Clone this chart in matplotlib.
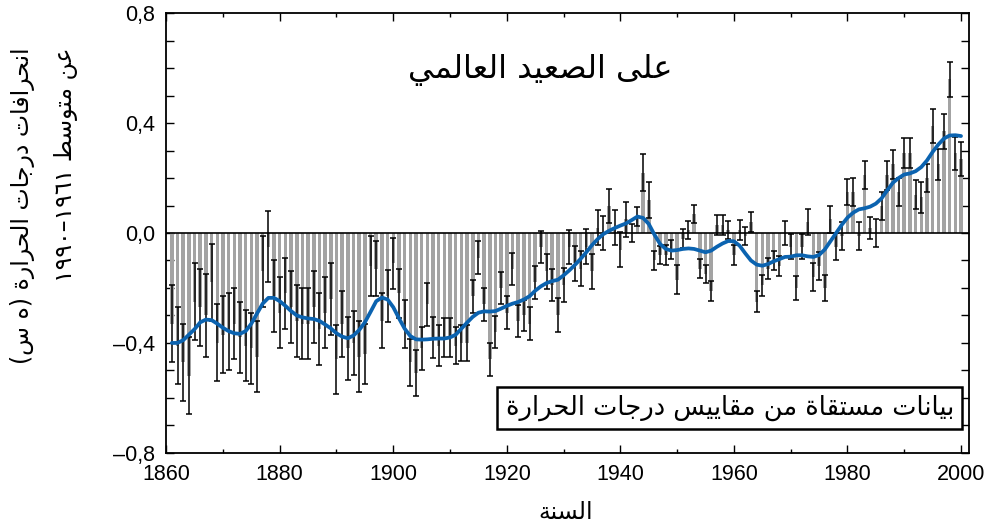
import matplotlib
matplotlib.use("Agg")
import matplotlib.pyplot as plt
from matplotlib.ticker import MultipleLocator, FixedLocator, FuncFormatter

BAR_COLOUR = "#a3a3a3"
LINE_COLOUR = "#0b63b0"
ARABIC_FONT = ["DejaVu Sans"]
NUMBER_FONT = ["Liberation Sans", "DejaVu Sans"]

TITLE = "على الصعيد العالمي"
SOURCE_NOTE = "بيانات مستقاة من مقاييس درجات الحرارة"
Y_LABEL_1 = "انحرافات درجات الحرارة (ه س)"
Y_LABEL_2 = "عن متوسط ١٩٦١–١٩٩٠"
X_LABEL = "السنة"

years = list(range(1861, 2001))

# annual anomaly (bar ends)
anomaly = [
    -0.33, -0.41, -0.47, -0.52, -0.25, -0.27, -0.30, -0.18, -0.40, -0.37,
    -0.36, -0.33, -0.38, -0.41, -0.42, -0.45, -0.14, -0.05, -0.23, -0.29,
    -0.22, -0.27, -0.32, -0.33, -0.33, -0.27, -0.35, -0.29, -0.24, -0.46,
    -0.33, -0.42, -0.40, -0.45, -0.44, -0.12, -0.13, -0.32, -0.23, -0.11,
    -0.22, -0.33, -0.47, -0.51, -0.42, -0.26, -0.38, -0.41, -0.38, -0.38,
    -0.41, -0.40, -0.40, -0.23, -0.09, -0.26, -0.46, -0.36, -0.20, -0.29,
    -0.13, -0.32, -0.30, -0.33, -0.18, -0.05, -0.14, -0.19, -0.30, -0.19,
    -0.05, -0.11, -0.13, -0.05, -0.14, 0.02, 0.00, 0.10, 0.02, -0.06,
    0.05, 0.00, 0.06, 0.22, 0.12, -0.10, -0.08, -0.08, -0.06, -0.17,
    -0.02, 0.01, 0.07, -0.13, -0.15, -0.21, 0.03, 0.03, 0.01, -0.08,
    0.01, -0.01, 0.04, -0.25, -0.19, -0.13, -0.10, -0.12, 0.00, -0.05,
    -0.20, -0.05, 0.04, -0.16, -0.12, -0.20, 0.05, -0.05, -0.01, 0.15,
    0.15, -0.01, 0.21, 0.02, 0.00, 0.10, 0.21, 0.25, 0.15, 0.29,
    0.29, 0.14, 0.13, 0.20, 0.39, 0.25, 0.37, 0.56, 0.29, 0.27,
]

# half length of the error bars
uncertainty = [
    0.14, 0.14, 0.14, 0.14, 0.14, 0.14, 0.15, 0.14, 0.14, 0.14,
    0.14, 0.13, 0.13, 0.13, 0.13, 0.13, 0.13, 0.13, 0.13, 0.13,
    0.13, 0.13, 0.13, 0.13, 0.13, 0.13, 0.13, 0.13, 0.13, 0.125,
    0.12, 0.115, 0.115, 0.13, 0.11, 0.11, 0.10, 0.10, 0.095, 0.093,
    0.09, 0.088, 0.085, 0.084, 0.079, 0.079, 0.075, 0.074, 0.07, 0.07,
    0.067, 0.067, 0.064, 0.06, 0.06, 0.06, 0.06, 0.059, 0.059, 0.059,
    0.058, 0.058, 0.058, 0.059, 0.06, 0.058, 0.062, 0.059, 0.062, 0.061,
    0.062, 0.063, 0.064, 0.063, 0.064, 0.064, 0.063, 0.062, 0.064, 0.063,
    0.064, 0.034, 0.034, 0.067, 0.066, 0.035, 0.033, 0.036, 0.033, 0.052,
    0.033, 0.033, 0.033, 0.035, 0.033, 0.036, 0.036, 0.036, 0.033, 0.036,
    0.036, 0.033, 0.035, 0.039, 0.039, 0.039, 0.036, 0.038, 0.042, 0.045,
    0.045, 0.045, 0.048, 0.05, 0.05, 0.047, 0.049, 0.05, 0.05, 0.048,
    0.05, 0.051, 0.051, 0.04, 0.051, 0.051, 0.053, 0.053, 0.05, 0.055,
    0.055, 0.053, 0.057, 0.051, 0.062, 0.057, 0.064, 0.064, 0.061, 0.062,
]

# smoothed curve (blue line), read at each year
smoothed = [
    -0.40, -0.40, -0.39, -0.37, -0.35, -0.325, -0.315, -0.317, -0.33, -0.345,
    -0.357, -0.365, -0.367, -0.357, -0.33, -0.293, -0.257, -0.236, -0.236, -0.248,
    -0.265, -0.284, -0.30, -0.307, -0.311, -0.313, -0.32, -0.333, -0.347, -0.365,
    -0.377, -0.383, -0.373, -0.353, -0.325, -0.287, -0.248, -0.235, -0.242, -0.27,
    -0.31, -0.348, -0.375, -0.387, -0.388, -0.387, -0.385, -0.384, -0.384, -0.38,
    -0.37, -0.348, -0.326, -0.305, -0.29, -0.285, -0.286, -0.284, -0.275, -0.265,
    -0.257, -0.251, -0.242, -0.23, -0.21, -0.194, -0.182, -0.175, -0.17, -0.154,
    -0.136, -0.116, -0.094, -0.07, -0.044, -0.022, -0.004, 0.008, 0.018, 0.027,
    0.035, 0.047, 0.06, 0.055, 0.033, -0.006, -0.04, -0.058, -0.064, -0.062,
    -0.058, -0.056, -0.058, -0.064, -0.07, -0.064, -0.05, -0.038, -0.029, -0.03,
    -0.046, -0.074, -0.10, -0.115, -0.119, -0.113, -0.103, -0.095, -0.087, -0.086,
    -0.081, -0.081, -0.085, -0.087, -0.08, -0.06, -0.03, 0.0, 0.03, 0.056,
    0.074, 0.086, 0.09, 0.096, 0.107, 0.126, 0.155, 0.183, 0.20, 0.213,
    0.217, 0.225, 0.24, 0.264, 0.295, 0.322, 0.344, 0.355, 0.356, 0.353,
]

y_ticks = [-0.8, -0.4, 0.0, 0.4, 0.8]
x_ticks = [1860, 1880, 1900, 1920, 1940, 1960, 1980, 2000]


# --- minimal Arabic shaping: matplotlib has no complex text layout ---
# letter: (isolated, final, initial, medial); two-form letters never join forward
ARABIC_FORMS = {
    "ا": ("\ufe8d", "\ufe8e"),
    "ب": ("\ufe8f", "\ufe90", "\ufe91", "\ufe92"),
    "ة": ("\ufe93", "\ufe94"),
    "ت": ("\ufe95", "\ufe96", "\ufe97", "\ufe98"),
    "ج": ("\ufe9d", "\ufe9e", "\ufe9f", "\ufea0"),
    "ح": ("\ufea1", "\ufea2", "\ufea3", "\ufea4"),
    "د": ("\ufea9", "\ufeaa"),
    "ر": ("\ufead", "\ufeae"),
    "س": ("\ufeb1", "\ufeb2", "\ufeb3", "\ufeb4"),
    "ص": ("\ufeb9", "\ufeba", "\ufebb", "\ufebc"),
    "ط": ("\ufec1", "\ufec2", "\ufec3", "\ufec4"),
    "ع": ("\ufec9", "\ufeca", "\ufecb", "\ufecc"),
    "ف": ("\ufed1", "\ufed2", "\ufed3", "\ufed4"),
    "ق": ("\ufed5", "\ufed6", "\ufed7", "\ufed8"),
    "ل": ("\ufedd", "\ufede", "\ufedf", "\ufee0"),
    "م": ("\ufee1", "\ufee2", "\ufee3", "\ufee4"),
    "ن": ("\ufee5", "\ufee6", "\ufee7", "\ufee8"),
    "ه": ("\ufee9", "\ufeea", "\ufeeb", "\ufeec"),
    "و": ("\ufeed", "\ufeee"),
    "ى": ("\ufeef", "\ufef0"),
    "ي": ("\ufef1", "\ufef2", "\ufef3", "\ufef4"),
}
MIRROR = {"(": ")", ")": "("}


def _shape(text: str) -> str:
    shaped = []
    for i, ch in enumerate(text):
        forms = ARABIC_FORMS.get(ch)
        if forms is None:
            shaped.append(ch)
            continue
        prev = text[i - 1] if i > 0 else ""
        nxt = text[i + 1] if i + 1 < len(text) else ""
        joins_prev = prev in ARABIC_FORMS and len(ARABIC_FORMS[prev]) == 4
        joins_next = nxt in ARABIC_FORMS and len(forms) == 4
        if joins_prev and joins_next:
            shaped.append(forms[3])
        elif joins_prev:
            shaped.append(forms[1])
        elif joins_next:
            shaped.append(forms[2])
        else:
            shaped.append(forms[0])
    return "".join(shaped)


def arabic(text: str) -> str:
    """Shape and put into visual (left to right) order; digit runs stay LTR."""
    visual = [MIRROR.get(c, c) for c in reversed(_shape(text))]
    out, run = [], []
    for c in visual:
        if c.isdigit():
            run.append(c)
        else:
            out.extend(reversed(run))
            run = []
            out.append(c)
    out.extend(reversed(run))
    return "".join(out)


def _format_tick(value, _pos):
    label = f"{value:.1f}".replace(".", ",")
    if value < 0:
        label = "\u2013" + label[1:]
    return label


fig = plt.figure(figsize=(10.01, 5.29), dpi=100)
ax = fig.add_axes([0.166, 0.144, 0.802, 0.831])

ax.bar(years, anomaly, width=0.62, color=BAR_COLOUR, linewidth=0, zorder=2)
ax.errorbar(
    years,
    anomaly,
    yerr=uncertainty,
    fmt="none",
    ecolor="black",
    elinewidth=1.1,
    capsize=2.3,
    capthick=1.1,
    zorder=3,
)
ax.axhline(0, color="black", linewidth=1.2, zorder=4)
ax.plot(years, smoothed, color=LINE_COLOUR, linewidth=2.7,
        solid_capstyle="round", zorder=5)

ax.set_xlim(1860, 2001.4)
ax.set_ylim(-0.8, 0.8)

ax.xaxis.set_major_locator(FixedLocator(x_ticks))
ax.xaxis.set_minor_locator(MultipleLocator(10))
ax.yaxis.set_major_locator(FixedLocator(y_ticks))
ax.yaxis.set_minor_locator(MultipleLocator(0.1))
ax.yaxis.set_major_formatter(FuncFormatter(_format_tick))

ax.tick_params(which="both", direction="in", top=True, right=True,
               width=1.0, colors="black")
ax.tick_params(axis="x", which="major", length=6, pad=8)
ax.tick_params(axis="x", which="minor", length=3)
ax.tick_params(axis="y", which="both", length=6, pad=8)

for lab in ax.get_xticklabels() + ax.get_yticklabels():
    lab.set_fontfamily(NUMBER_FONT)
    lab.set_fontsize(15.5)

for spine in ax.spines.values():
    spine.set_linewidth(1.3)
    spine.set_color("black")

ax.text(0.466, 0.87, arabic(TITLE), transform=ax.transAxes,
        ha="center", va="center", fontsize=23, family=ARABIC_FONT)

ax.text(0.702, 0.102, arabic(SOURCE_NOTE), transform=ax.transAxes,
        ha="center", va="center", fontsize=18.5, family=ARABIC_FONT,
        zorder=6,
        bbox=dict(boxstyle="square,pad=0.32", facecolor="white",
                  edgecolor="black", linewidth=1.8))

fig.text(0.022, 0.91, arabic(Y_LABEL_1), rotation=90, ha="center", va="top",
         fontsize=17, family=ARABIC_FONT)
fig.text(0.066, 0.91, arabic(Y_LABEL_2), rotation=90, ha="center", va="top",
         fontsize=17, family=ARABIC_FONT)

fig.text(0.565, 0.032, arabic(X_LABEL), ha="center", va="center",
         fontsize=17, family=ARABIC_FONT)

fig.savefig("out.png", dpi=100, facecolor="white")
plt.close(fig)
